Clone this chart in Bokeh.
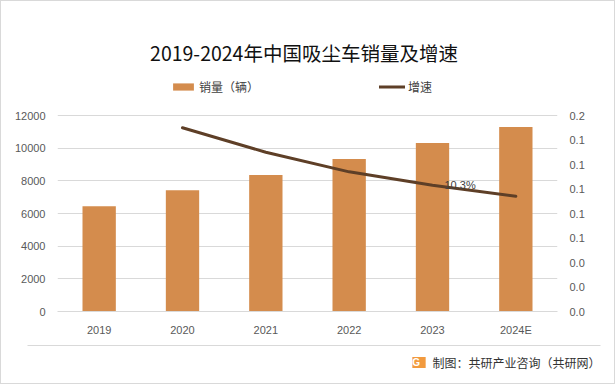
from bokeh.plotting import figure
from bokeh.layouts import column
from bokeh.models import (Range1d, LinearAxis, FixedTicker, PrintfTickFormatter,
                          Legend, LegendItem, Label, FactorRange)
from bokeh.core.properties import value
from bokeh.embed import file_html
from bokeh.resources import INLINE

# ---- data ----
years = ["2019", "2020", "2021", "2022", "2023", "2024E"]
sales = [6440, 7430, 8350, 9330, 10310, 11300]          # 销量（辆）
growth_years = ["2020", "2021", "2022", "2023", "2024E"]
growth = [0.150, 0.130, 0.114, 0.103, 0.094]            # 增速
left_ticks = [0, 2000, 4000, 6000, 8000, 10000, 12000]
right_ticks = [0, 0.02, 0.04, 0.06, 0.08, 0.10, 0.12, 0.14, 0.16]
title_text = "2019-2024年中国吸尘车销量及增速"
source_text = "制图：共研产业咨询（共研网）"

BAR = "#D48C4D"
LINE = "#5E3F27"
GRID = "#D9D9D9"
TICK = "#595959"
CJK = "Noto Sans CJK SC"
LAT = "Liberation Sans"

# ---- layout geometry (pixels) ----
W = 613
H_MAIN = 339
H_FOOT = 43
FRAME_LEFT, FRAME_RIGHT = 56, 556      # canvas px
FRAME_BOTTOM = 310                      # canvas px (value 0)
FRAME_TOP_VALUE = 114                   # canvas px where the top tick sits
span_px = FRAME_BOTTOM - FRAME_TOP_VALUE
y_end = left_ticks[-1] * FRAME_BOTTOM / span_px
g_end = right_ticks[-1] * FRAME_BOTTOM / span_px

p = figure(width=W, height=H_MAIN, x_range=FactorRange(factors=years),
           y_range=Range1d(0, y_end), output_backend="svg", toolbar_location=None,
           title=None, min_border_left=FRAME_LEFT, min_border_right=W - FRAME_RIGHT,
           min_border_top=0, min_border_bottom=H_MAIN - FRAME_BOTTOM)
p.frame_align = False
p.extra_y_ranges = {"growth": Range1d(0, g_end)}
p.outline_line_color = None
p.background_fill_color = "white"
p.border_fill_color = "white"

bars = p.vbar(x=years, top=sales, width=0.4, color=BAR, line_color=None)
line = p.line(x=growth_years, y=growth, y_range_name="growth",
              line_width=3, line_color=LINE, line_join="round", line_cap="round")

# data label for 2023
p.text(x=[growth_years[3]], y=[growth[3]], text=[f"{growth[3]*100:.1f}%"],
       y_range_name="growth", x_offset=12, text_align="left", text_baseline="middle",
       text_font=value(LAT), text_font_size="11px", text_color="#404040")

def style_axis(ax):
    ax.major_tick_line_color = None
    ax.minor_tick_line_color = None
    ax.major_tick_out = 0
    ax.major_tick_in = 0
    ax.minor_tick_out = 0
    ax.minor_tick_in = 0
    ax.major_label_standoff = 12
    ax.major_label_text_font = LAT
    ax.major_label_text_font_size = "11px"
    ax.major_label_text_color = TICK

for ax in p.xaxis:
    style_axis(ax)
    ax.axis_line_color = GRID
p.yaxis.ticker = FixedTicker(ticks=left_ticks)
for ax in p.yaxis:
    style_axis(ax)
    ax.axis_line_color = None

raxis = LinearAxis(y_range_name="growth", ticker=FixedTicker(ticks=right_ticks),
                   formatter=PrintfTickFormatter(format="%.1f"))
style_axis(raxis)
raxis.axis_line_color = None
p.add_layout(raxis, "right")

p.xgrid.grid_line_color = None
p.ygrid.grid_line_color = GRID
p.ygrid.grid_line_width = 1
p.ygrid.ticker = FixedTicker(ticks=left_ticks)

# legend
legend = Legend(items=[LegendItem(label="销量（辆）", renderers=[bars]),
                       LegendItem(label="增速", renderers=[line])],
                orientation="horizontal", location=(113, 216), spacing=120,
                glyph_width=26, glyph_height=9, label_standoff=3,
                padding=0, margin=0, border_line_color=None,
                background_fill_alpha=0, label_text_font=CJK,
                label_text_font_size="12px", label_text_color="#404040")
p.add_layout(legend, "center")

# title
p.add_layout(Label(x=246.5, y=259, x_units="screen", y_units="screen", text=title_text,
                   text_align="center", text_baseline="middle", text_font=CJK,
                   text_font_size="19.5px", text_color="#111111"))

# ---- footer ----
f = figure(width=W, height=H_FOOT, x_range=Range1d(1, 1 + W),
           y_range=Range1d(340 + H_FOOT, 340), output_backend="svg",
           toolbar_location=None, title=None, min_border=0,
           x_axis_type=None, y_axis_type=None)
f.frame_align = False
f.grid.visible = False
f.outline_line_color = None
f.background_fill_color = "white"
f.border_fill_color = "white"
f.segment(x0=[27], y0=[345], x1=[600], y1=[345], line_color=GRID, line_width=1)
f.add_layout(Label(x=418.5, y=362, text=" G ", text_align="center",
                   text_baseline="middle", text_font=LAT, text_font_style="bold",
                   text_font_size="10px", text_color="white",
                   background_fill_color="#F29A3E"))
f.add_layout(Label(x=432, y=362, text=source_text, text_align="left",
                   text_baseline="middle", text_font=CJK, text_font_size="12px",
                   text_color="#333333"))

layout = column(p, f, spacing=0, styles={"border": "1px solid #D9D9D9"})

open("out.html", "w").write(file_html(layout, INLINE))
